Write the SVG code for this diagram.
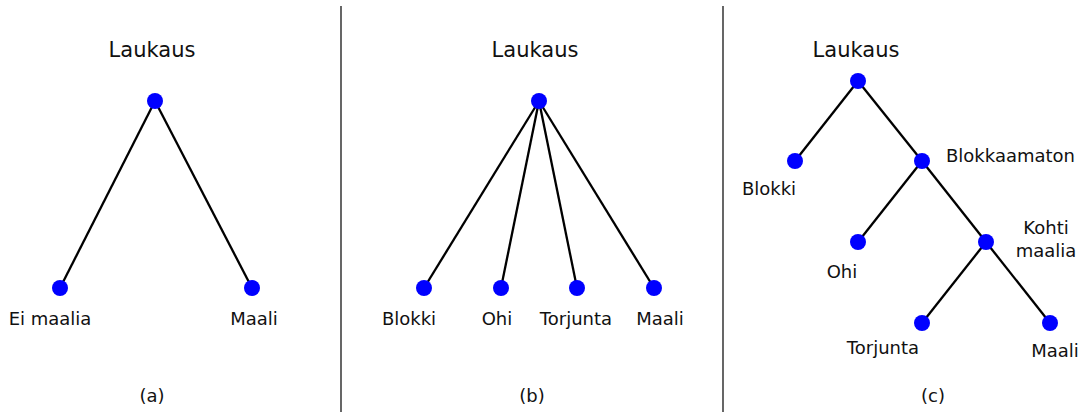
<svg xmlns="http://www.w3.org/2000/svg" width="1083" height="412" viewBox="0 0 1083 412">
<style>
text{font-family:"DejaVu Sans",Verdana,sans-serif;font-size:18px;fill:#111;text-anchor:middle}
.t{font-size:21px}
.s{text-anchor:start}
.e line{stroke:#000;stroke-width:2.3}
.n{fill:#0000ff}
.sep{stroke:#000;stroke-width:1.2}
</style>
<rect width="1083" height="412" fill="#fff"/>
<line class="sep" x1="341" y1="6" x2="341" y2="412"/>
<line class="sep" x1="723" y1="6" x2="723" y2="412"/>
<g id="connectors" class="e">
<line x1="155" y1="101" x2="60" y2="288"/>
<line x1="155" y1="101" x2="252" y2="288"/>
<line x1="539" y1="101" x2="424" y2="288"/>
<line x1="539" y1="101" x2="501" y2="288"/>
<line x1="539" y1="101" x2="577" y2="288"/>
<line x1="539" y1="101" x2="654" y2="288"/>
<line x1="858" y1="81" x2="795" y2="161"/>
<line x1="858" y1="81" x2="922" y2="161"/>
<line x1="922" y1="161" x2="858" y2="242"/>
<line x1="922" y1="161" x2="986" y2="242"/>
<line x1="986" y1="242" x2="922" y2="323"/>
<line x1="986" y1="242" x2="1050" y2="323"/>
</g>
<g id="a-root"><circle class="n" cx="155" cy="101" r="8"/><text class="t" x="152" y="57">Laukaus</text></g>
<g id="a-ei"><circle class="n" cx="60" cy="288" r="8"/><text x="50" y="325">Ei maalia</text></g>
<g id="a-maali"><circle class="n" cx="252" cy="288" r="8"/><text x="254" y="325">Maali</text></g>
<text x="152" y="402">(a)</text>
<g id="b-root"><circle class="n" cx="539" cy="101" r="8"/><text class="t" x="535" y="57">Laukaus</text></g>
<g id="b-blokki"><circle class="n" cx="424" cy="288" r="8"/><text x="409" y="325">Blokki</text></g>
<g id="b-ohi"><circle class="n" cx="501" cy="288" r="8"/><text x="497" y="325">Ohi</text></g>
<g id="b-torjunta"><circle class="n" cx="577" cy="288" r="8"/><text x="576" y="325">Torjunta</text></g>
<g id="b-maali"><circle class="n" cx="654" cy="288" r="8"/><text x="660" y="325">Maali</text></g>
<text x="532" y="402">(b)</text>
<g id="c-root"><circle class="n" cx="858" cy="81" r="8"/><text class="t" x="856" y="57">Laukaus</text></g>
<g id="c-blokki"><circle class="n" cx="795" cy="161" r="8"/><text x="769" y="195">Blokki</text></g>
<g id="c-blokkaamaton"><circle class="n" cx="922" cy="161" r="8"/><text class="s" x="946" y="162">Blokkaamaton</text></g>
<g id="c-ohi"><circle class="n" cx="858" cy="242" r="8"/><text x="842" y="278">Ohi</text></g>
<g id="c-kohti"><circle class="n" cx="986" cy="242" r="8"/><text x="1046" y="234">Kohti</text><text x="1046" y="257">maalia</text></g>
<g id="c-torjunta"><circle class="n" cx="922" cy="323" r="8"/><text x="883" y="354">Torjunta</text></g>
<g id="c-maali"><circle class="n" cx="1050" cy="323" r="8"/><text x="1055" y="357">Maali</text></g>
<text x="933" y="402">(c)</text>
</svg>
